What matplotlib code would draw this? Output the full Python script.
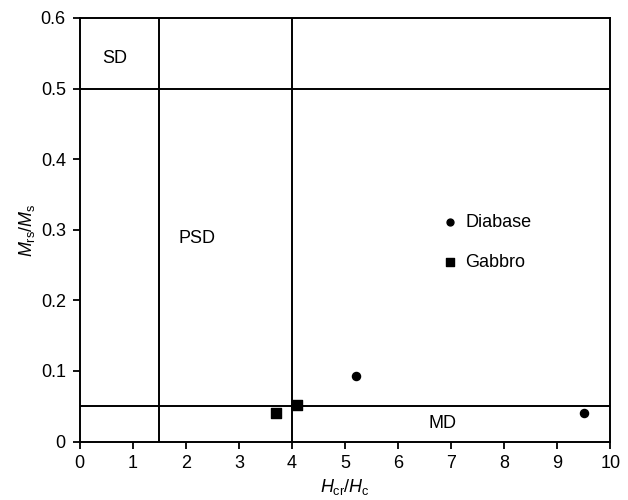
import matplotlib.pyplot as plt

plt.rcParams['font.family'] = ['Liberation Sans', 'DejaVu Sans']
plt.rcParams['mathtext.fontset'] = 'custom'
plt.rcParams['mathtext.rm'] = 'Liberation Sans'
plt.rcParams['mathtext.it'] = 'Liberation Sans:italic'

# Day plot data
diabase_x = [5.2, 9.5]
diabase_y = [0.093, 0.041]
gabbro_x = [3.7, 4.1]
gabbro_y = [0.041, 0.052]

# domain boundaries
bound_x = [1.5, 4.0]
bound_y = [0.05, 0.5]
regions = ["SD", "PSD", "MD"]
region_pos = [(0.66, 0.543), (2.2, 0.287), (6.84, 0.026)]

fig = plt.figure(figsize=(6.28, 5.0), dpi=100)
ax = fig.add_axes([0.127, 0.117, 0.845, 0.847])

for bx in bound_x:
    ax.axvline(bx, color="black", lw=1.4, zorder=1)
for by in bound_y:
    ax.axhline(by, color="black", lw=1.4, zorder=1)

ax.scatter(diabase_x, diabase_y, marker="o", s=34, color="black", label="Diabase", zorder=3)
ax.scatter(gabbro_x, gabbro_y, marker="s", s=46, color="black", label="Gabbro", zorder=3)

for name, (tx, ty) in zip(regions, region_pos):
    ax.text(tx, ty, name, fontsize=13, ha="center", va="center")

ax.set_xlim(0, 10)
ax.set_ylim(0, 0.6)
ax.set_xticks(range(0, 11))
ax.set_yticks([0, 0.1, 0.2, 0.3, 0.4, 0.5, 0.6])
ax.set_yticklabels(["0", "0.1", "0.2", "0.3", "0.4", "0.5", "0.6"])
ax.tick_params(labelsize=13, direction="out", length=5, width=1.3, pad=5)
for sp in ax.spines.values():
    sp.set_linewidth(1.4)

ax.set_xlabel(r"$H_{\rm cr}/H_{\rm c}$", fontsize=13, labelpad=3)
ax.set_ylabel(r"$M_{\rm rs}/M_{\rm s}$", fontsize=13, labelpad=3)

ax.legend(loc="upper left", bbox_to_anchor=(0.648, 0.575), frameon=False,
          fontsize=13, handletextpad=0.3, labelspacing=1.25, markerscale=0.85,
          handlelength=1.1)

plt.savefig("out.png", dpi=100)
